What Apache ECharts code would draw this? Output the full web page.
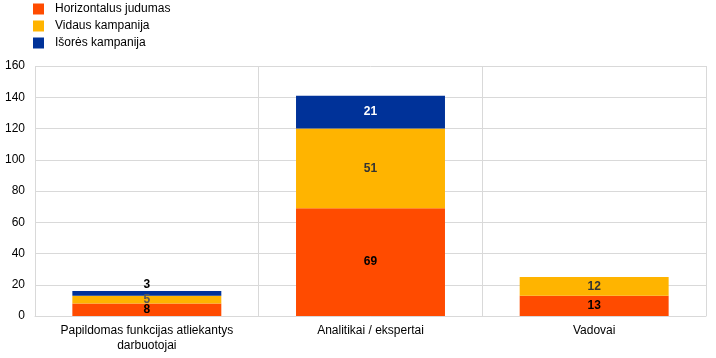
<!DOCTYPE html>
<html><head><meta charset="utf-8">
<script src="https://cdn.jsdelivr.net/npm/echarts@6/dist/echarts.min.js"></script>
<style>html,body{margin:0;padding:0;background:#fff}#c{width:716px;height:358px}</style>
</head><body><div id="c"></div>
<script>
const categories = ['Papildomas funkcijas atliekantys\ndarbuotojai', 'Analitikai / ekspertai', 'Vadovai'];
const seriesNames = ['Horizontalus judumas', 'Vidaus kampanija', 'Išorės kampanija'];
const horizontal = [8, 69, 13];
const vidaus = [5, 51, 12];
const isores = [3, 21, null];
const yTicks = [0, 20, 40, 60, 80, 100, 120, 140, 160];

const colors = ['#ff4b00', '#ffb400', '#003299'];
const labelColors = ['#000', '#333', '#fff'];
const font = 'Liberation Sans, Arial, sans-serif';

function mk(name, vals, idx) {
  return {
    name: name, type: 'bar', stack: 's', barWidth: '66.6%',
    itemStyle: { color: colors[idx] },
    label: { show: true, position: 'inside', color: labelColors[idx], fontWeight: 'bold', fontSize: 12, fontFamily: font },
    data: vals.map(v => {
      if (v === null) return null;
      if (idx === 2 && v < 5) return { value: v, label: { position: 'top', distance: 0, color: '#000' } };
      if (idx === 1 && v < 6) return { value: v, label: { color: '#555' } };
      return v;
    })
  };
}

const chart = echarts.init(document.getElementById('c'));
chart.setOption({
  animation: false,
  legend: {
    orient: 'vertical', left: 28, top: -2, itemWidth: 11, itemHeight: 11, itemGap: 5,
    icon: 'rect',
    textStyle: { fontSize: 12, fontFamily: font, color: '#000', padding: [0, 0, 0, 6] },
    data: seriesNames
  },
  grid: { left: 35, right: 10, top: 66, bottom: 42, containLabel: false },
  xAxis: {
    type: 'category', data: categories,
    axisLine: { lineStyle: { color: '#d9d9d9' } },
    axisTick: { show: false },
    splitLine: { show: true, lineStyle: { color: '#d9d9d9' } },
    axisLabel: { fontSize: 12, fontFamily: font, color: '#000', margin: 7, interval: 0, lineHeight: 15 }
  },
  yAxis: {
    type: 'value', min: 0, max: 160, interval: 20,
    axisLine: { show: false }, axisTick: { show: false },
    splitLine: { lineStyle: { color: '#d9d9d9' } },
    axisLabel: { fontSize: 12, fontFamily: font, color: '#000', margin: 10 }
  },
  series: [mk(seriesNames[0], horizontal, 0), mk(seriesNames[1], vidaus, 1), mk(seriesNames[2], isores, 2)]
});
</script></body></html>
